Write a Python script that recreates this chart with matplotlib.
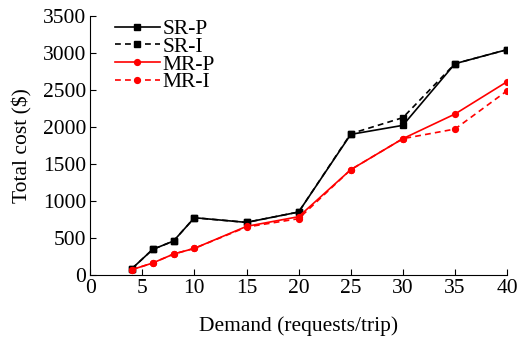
import matplotlib
matplotlib.use('Agg')
import matplotlib.pyplot as plt

plt.rcParams['font.family'] = ['Liberation Serif', 'DejaVu Serif']

demand = [4, 6, 8, 10, 15, 20, 25, 30, 35, 40]
sr_p = [81, 342, 455, 770, 707, 847, 1896, 2018, 2851, 3041]
sr_i = [81, 342, 455, 770, 707, 847, 1905, 2122, 2851, 3041]
mr_p = [68, 158, 279, 356, 653, 784, 1419, 1838, 2171, 2608]
mr_i = [68, 158, 279, 356, 644, 757, 1419, 1838, 1968, 2486]

fig = plt.figure(figsize=(5.18, 3.4), dpi=100)
ax = fig.add_axes([0.174, 0.192, 0.805, 0.762])

ax.plot(demand, sr_p, '-', color='black', marker='s', ms=4.2, lw=1.2, label='SR-P')
ax.plot(demand, sr_i, '--', color='black', marker='s', ms=4.2, lw=1.2, dashes=(3.5, 2.5), label='SR-I')
ax.plot(demand, mr_p, '-', color='red', marker='o', ms=4.2, lw=1.2, label='MR-P')
ax.plot(demand, mr_i, '--', color='red', marker='o', ms=4.2, lw=1.2, dashes=(3.5, 2.5), label='MR-I')

ax.set_xlim(0, 40)
ax.set_ylim(0, 3500)
ax.set_xticks(range(0, 41, 5))
ax.set_yticks(range(0, 3501, 500))
ax.tick_params(direction='in', length=4, labelsize=15.5, pad=3)
ax.spines['top'].set_visible(False)
ax.spines['right'].set_visible(False)
ax.set_xlabel('Demand (requests/trip)', fontsize=15.5, labelpad=13)
ax.set_ylabel('Total cost (\\$)', fontsize=15.5, labelpad=7)

ax.legend(loc='upper left', frameon=False, fontsize=15.5, handlelength=2.05,
          borderaxespad=0.0, labelspacing=-0.11, handletextpad=0.15,
          bbox_to_anchor=(0.04, 1.02))

fig.savefig('out.png', dpi=100)
